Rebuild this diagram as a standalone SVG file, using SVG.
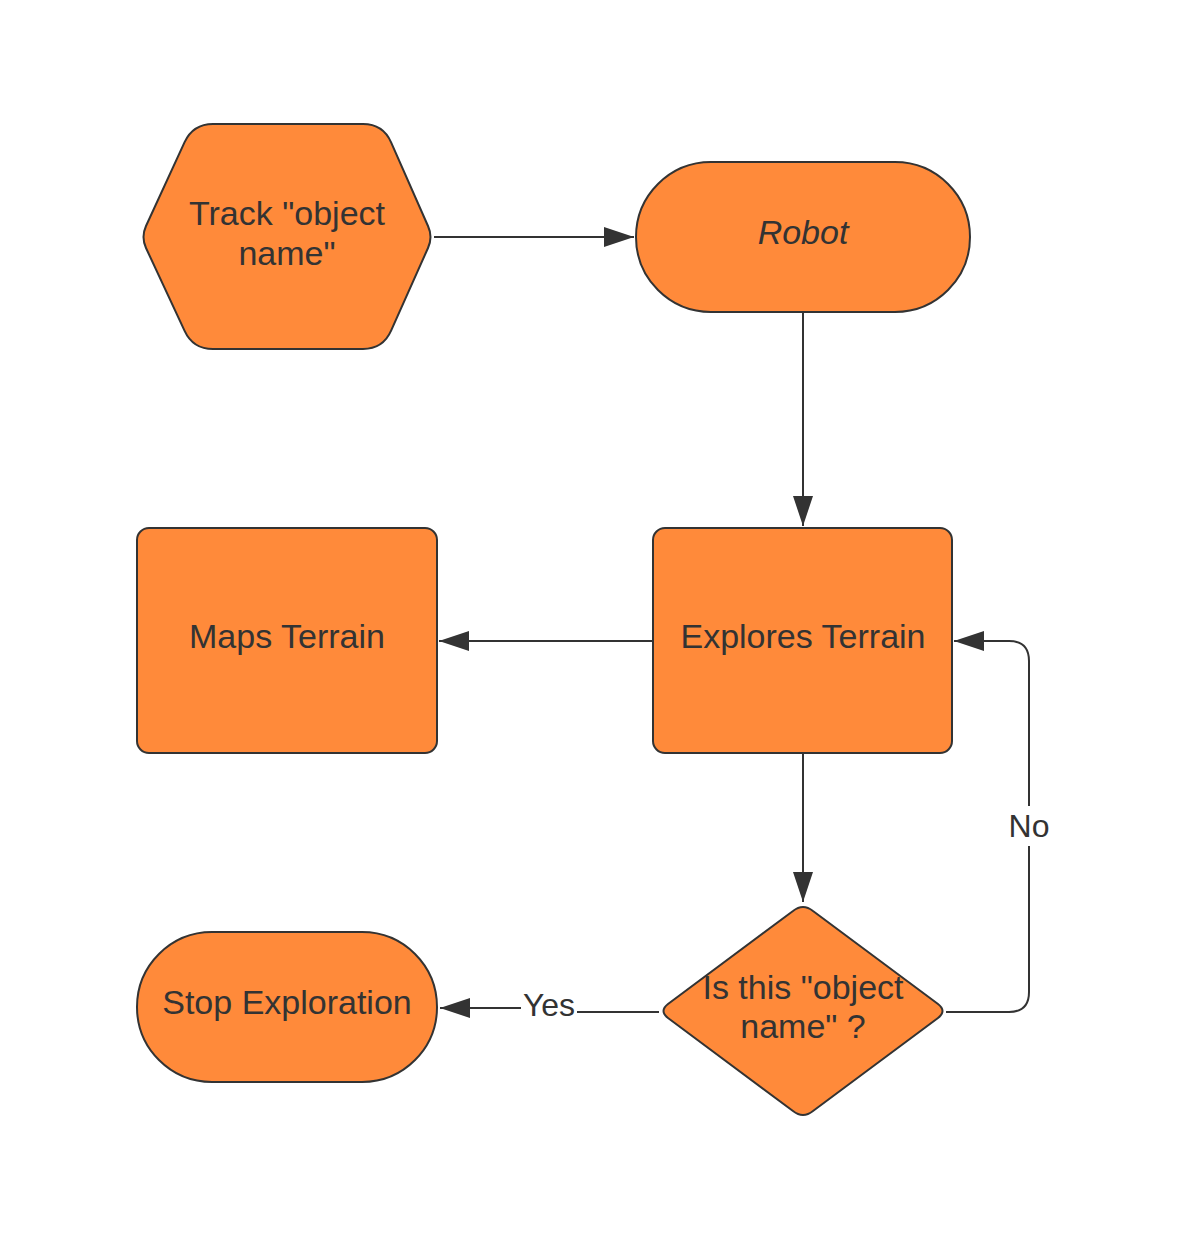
<svg xmlns="http://www.w3.org/2000/svg" width="1187" height="1249" viewBox="0 0 1187 1249">
<defs>
<style>
.node{fill:#ff8a3a;stroke:#333333;stroke-width:2;stroke-linejoin:round}
.lbl{font-family:"Liberation Sans",Arial,sans-serif;font-size:34px;fill:#333333;text-anchor:middle}
.edge{fill:none;stroke:#333333;stroke-width:2}
.elbl{font-family:"Liberation Sans",Arial,sans-serif;font-size:32px;fill:#333333;text-anchor:middle}
</style>
<marker id="arr" viewBox="0 0 30 20" refX="30" refY="10" markerWidth="30" markerHeight="20" markerUnits="userSpaceOnUse" orient="auto">
<path d="M0,0 L30,10 L0,20 Z" fill="#333333"/>
</marker>
</defs>
<rect width="1187" height="1249" fill="#ffffff"/>
<g id="connectors">
<path class="edge" d="M434,237 L634,237" marker-end="url(#arr)"/>
<path class="edge" d="M803,312 L803,526" marker-end="url(#arr)"/>
<path class="edge" d="M652,641 L439,641" marker-end="url(#arr)"/>
<path class="edge" d="M803,754 L803,902" marker-end="url(#arr)"/>
<path class="edge" d="M946,1012 L1009,1012 Q1029,1012 1029,992 L1029,661 Q1029,641 1009,641 L954,641" marker-end="url(#arr)"/>
<path class="edge" d="M659,1012 L577,1012"/>
<path class="edge" d="M521,1008 L440,1008" marker-end="url(#arr)"/>
<rect x="1006" y="806" width="46" height="40" fill="#ffffff"/>
<text class="elbl" x="1029" y="837">No</text>
<text class="elbl" x="549" y="1016">Yes</text>
</g>
<g id="track">
<path class="node" d="M184.6,142.2 Q193,124 213,124 L363,124 Q383,124 391.1,142.3 L428,226 Q433,237 428,248 L391.1,330.7 Q383,349 363,349 L213,349 Q193,349 184.6,330.8 L146,248 Q141,237 146,226 Z"/>
<text class="lbl" x="287" y="225">Track "object</text>
<text class="lbl" x="287" y="265">name"</text>
</g>
<g id="robot">
<rect class="node" x="636" y="162" width="334" height="150" rx="75" ry="75"/>
<text class="lbl" x="803" y="244" font-style="italic">Robot</text>
</g>
<g id="maps">
<rect class="node" x="137" y="528" width="300" height="225" rx="12" ry="12"/>
<text class="lbl" x="287" y="648">Maps Terrain</text>
</g>
<g id="explores">
<rect class="node" x="653" y="528" width="299" height="225" rx="12" ry="12"/>
<text class="lbl" x="803" y="648">Explores Terrain</text>
</g>
<g id="decision">
<path class="node" d="M793,911 Q803,903 813,911 L938,1004 Q947,1011 938,1018 L813,1111 Q803,1119 793,1111 L668,1018 Q659,1011 668,1004 Z"/>
<text class="lbl" x="803" y="999">Is this "object</text>
<text class="lbl" x="803" y="1038">name" ?</text>
</g>
<g id="stop">
<rect class="node" x="137" y="932" width="300" height="150" rx="75" ry="75"/>
<text class="lbl" x="287" y="1014">Stop Exploration</text>
</g>
</svg>
